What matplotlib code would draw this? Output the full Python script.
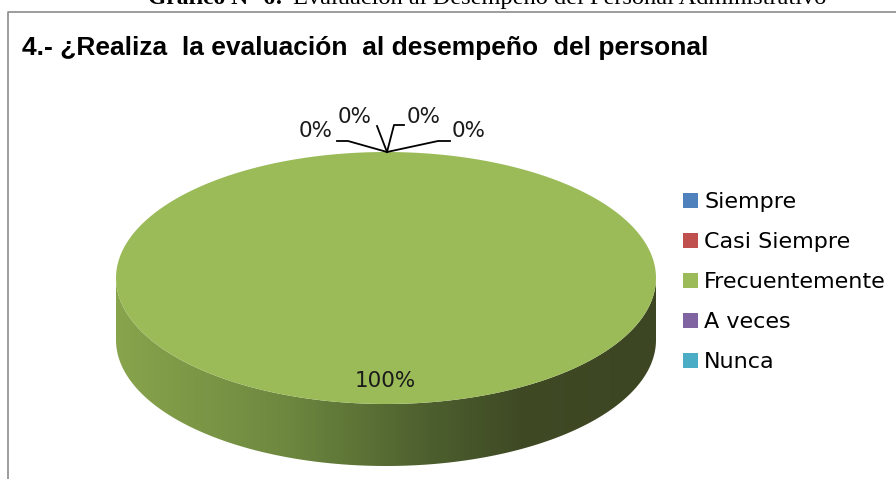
import numpy as np
import matplotlib
matplotlib.use("Agg")
import matplotlib.pyplot as plt
from matplotlib.patches import Polygon, Patch
from matplotlib.colors import LinearSegmentedColormap

# ---------------- data ----------------
categories = ["Siempre", "Casi Siempre", "Frecuentemente", "A veces", "Nunca"]
values = [0, 0, 100, 0, 0]
pct_labels = ["0%", "0%", "100%", "0%", "0%"]
colors = ["#4F81BD", "#C0504D", "#9BBB59", "#8064A2", "#4BACC6"]
title = "4.- ¿Realiza  la evaluación  al desempeño  del personal"
caption_bold = "Gráfico N° 6:"
caption_rest = "Evaluación al Desempeño del Personal Administrativo"

# ---------------- figure ----------------
W, H = 896, 479
fig = plt.figure(figsize=(W / 100, H / 100), dpi=100)
ax = fig.add_axes([0, 0, 1, 1])
ax.set_xlim(0, W)
ax.set_ylim(H, 0)
ax.axis("off")

# frame of chart area
ax.plot([8, 8, W + 5], [H + 5, 12, 12], color="#8c8c8c", lw=1.2, solid_capstyle="butt")

# caption (partially cut at top, as in the reference)
ax.text(283, 4, caption_bold, ha="right", va="baseline", fontsize=17,
        family="Liberation Serif", fontweight="bold")
ax.text(293, 4, caption_rest, ha="left", va="baseline", fontsize=17.6,
        family="Liberation Serif")

# title
ax.text(22, 48, title, ha="left", va="center", fontsize=19,
        family=["Liberation Sans Narrow", "Liberation Sans"], fontweight="bold")

# ---------------- 3D pie geometry ----------------
cx, cy, rx, ry, depth = 386, 278, 270, 126, 62
total = float(sum(values))


def ell(t_deg, dy=0.0):
    t = np.radians(t_deg)
    return np.column_stack([cx + rx * np.cos(t), cy - ry * np.sin(t) + dy])


# slice angles: start at 12 o'clock going clockwise
start = 90.0
slices = []
for v, c in zip(values, colors):
    sweep = 360.0 * v / total
    slices.append((start - sweep, start, c))
    start -= sweep

# side gradient colormap (light left -> dark right)
side_cmap = LinearSegmentedColormap.from_list(
    "side",
    [(0.0, "#88a44c"), (0.3, "#6f8a40"), (0.58, "#4d5f2e"), (0.75, "#3f4a25"), (1.0, "#3c4622")],
)
grad = np.linspace(0, 1, 512)[None, :]

for t0, t1, c in slices:
    if t1 - t0 <= 0:
        continue
    # front visible side: angles in (-180, 0)
    a0, a1 = max(t0, -180.0), min(t1, 0.0)
    if a1 > a0:
        ts = np.linspace(a0, a1, 200)
        top = ell(ts)
        bot = ell(ts[::-1], depth)
        poly = Polygon(np.vstack([top, bot]), closed=True, facecolor="none", edgecolor="none")
        ax.add_patch(poly)
        im = ax.imshow(grad, cmap=side_cmap, aspect="auto",
                       extent=[cx - rx, cx + rx, cy + ry + depth, cy - ry], zorder=1,
                       interpolation="bilinear")
        im.set_clip_path(poly)

# top face
for t0, t1, c in slices:
    if t1 - t0 <= 0:
        continue
    ts = np.linspace(t0, t1, 400)
    pts = ell(ts)
    if t1 - t0 < 360:
        pts = np.vstack([[cx, cy], pts])
    ax.add_patch(Polygon(pts, closed=True, facecolor=c, edgecolor="none", zorder=2))

# ---------------- labels ----------------
apex = (387, 152)
leaders = [
    [(348, 141), (337, 141)],
    [(377, 126)],
    None,
    [(394, 125), (404, 125)],
    [(438, 141), (450, 141)],
]
label_pos = [(316, 131), (355, 117), (385, 381), (424, 117), (469, 131)]
for lab, lead, pos in zip(pct_labels, leaders, label_pos):
    if lead is not None:
        xs = [apex[0]] + [p[0] for p in lead]
        ys = [apex[1]] + [p[1] for p in lead]
        ax.plot(xs, ys, color="black", lw=1.3, zorder=4)
    ax.text(pos[0], pos[1], lab, ha="center", va="center", fontsize=15.5,
            family="DejaVu Sans", color="#1a1a1a", zorder=5)

# ---------------- legend ----------------
handles = [Patch(facecolor=c, edgecolor="none") for c in colors]
leg = ax.legend(handles, categories, loc="upper left", bbox_to_anchor=(683, 192),
                bbox_transform=ax.transData, frameon=False,
                prop={"family": "DejaVu Sans", "size": 16},
                handlelength=0.66, handleheight=0.66, handletextpad=0.3,
                labelspacing=0.9, borderpad=0, borderaxespad=0)

fig.savefig("out.png", dpi=100)
